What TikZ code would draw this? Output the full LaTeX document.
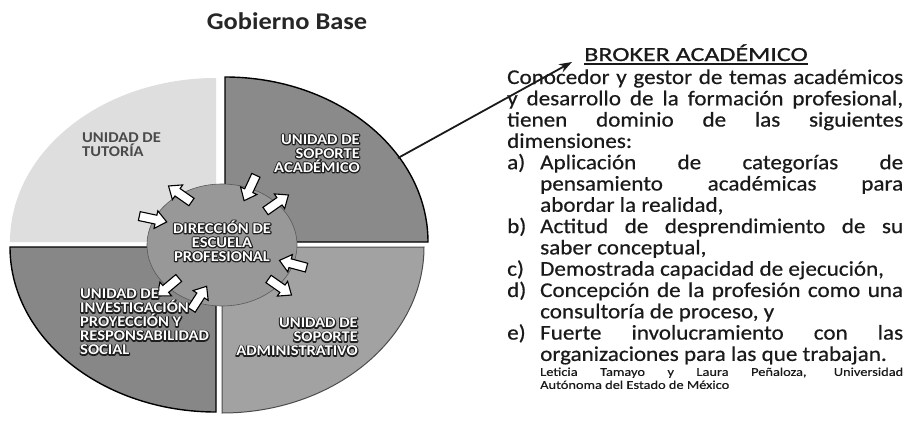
\documentclass[tikz,border=0pt]{standalone}
\usepackage{fontspec}
\setmainfont{Carlito}[FakeStretch=1.1]
\newfontfamily\bodyfont{Carlito}[FakeStretch=1.1, FakeBold=0.5]
\newfontfamily\headfont{Carlito}[FakeStretch=1.3, FakeBold=0.8]
\newfontfamily\citefont{Carlito}[FakeStretch=1.2, FakeBold=0.4]
\usetikzlibrary{arrows.meta}
\definecolor{qlight}{HTML}{DEDEDE}
\definecolor{qtr}{HTML}{8A8A8A}
\definecolor{qbl}{HTML}{878787}
\definecolor{qbr}{HTML}{A2A2A2}
\definecolor{qmid}{HTML}{989898}
\definecolor{tutcol}{HTML}{4A4A4A}
\definecolor{ink}{HTML}{1A1A1A}
\tikzset{
  quadline/.style={line width=1.4pt, draw=black},
  blockarrow/.style={draw=black, fill=white, line width=1.1pt, line join=miter},
  lbl/.style={font=\fontsize{15}{14}\selectfont\bfseries, inner sep=0pt},
  lblshadow/.style={lbl, execute at begin node={\special{pdf:literal direct 1 Tr 2.2 w 1 j 0.12 0.12 0.12 RG}},
    execute at end node={\special{pdf:literal direct 0 Tr 0 0 0 RG}}},
  lbltop/.style={lbl, text=white},
  bodytext/.style={inner sep=0pt, text width=396pt, align=justify, text=ink,
    font=\bodyfont\fontsize{21}{21.3}\selectfont},
}
\newcommand\olbl[4]{%
  \node[lblshadow,#3] (#1-shadow) at #2 {#4};
  \node[lbltop,#3] (#1) at #2 {#4};}
\newcommand\barrow[3]{%
  \begin{scope}[shift={(#1,#2)}, rotate=#3]
    \filldraw[blockarrow] (-14,-4.5) -- (3,-4.5) -- (3,-9) -- (14,0) -- (3,9) -- (3,4.5) -- (-14,4.5) -- cycle;
  \end{scope}}
\newcommand\itm[2]{\par\noindent\hangindent=33pt\hangafter=1\makebox[33pt][l]{#1}#2\par}
\begin{document}
\begin{tikzpicture}[x=1pt,y=-1pt]
\fill[white] (0,0) rectangle (908,423);
\useasboundingbox (0,0) rectangle (908,423);
% quadrants
\fill[qlight] (216,242) -- (10,242) arc[start angle=180, end angle=270, x radius=206, y radius=164] -- cycle;
\filldraw[fill=qtr, quadline] (225,242) -- (225,77) arc[start angle=270, end angle=360, x radius=203, y radius=165] -- cycle;
\filldraw[fill=qbl, quadline] (216,247) -- (10,247) arc[start angle=180, end angle=90, x radius=206, y radius=165] -- cycle;
\filldraw[fill=qbr, draw=gray!60!black, line width=1pt] (222,247) -- (424,247) arc[start angle=0, end angle=90, x radius=202, y radius=166] -- cycle;
% centre
\filldraw[fill=qmid, draw=gray!70!black, line width=0.6pt] (222,245) ellipse[x radius=75, y radius=61];
% block arrows
\barrow{180}{194}{145}
\barrow{250}{188}{-115}
\barrow{277}{203}{35}
\barrow{153}{219}{-12}
\barrow{293}{264}{165}
\barrow{280}{287}{-35}
\barrow{168}{287}{-140}
\barrow{199}{298}{57}
% labels
\node[lbl, text=tutcol, align=left, anchor=west] (tut) at (82,145) {UNIDAD DE\\TUTORÍA};
\olbl{acad}{(360,153.5)}{align=right, anchor=east}{UNIDAD DE\\SOPORTE\\ACADÉMICO}
\olbl{dir}{(222,241)}{align=center}{DIRECCIÓN DE\\ESCUELA\\PROFESIONAL}
\olbl{inv}{(80,322)}{align=left, anchor=west}{UNIDAD DE\\INVESTIGACIÓN\\PROYECCIÓN Y\\RESPONSABILIDAD\\SOCIAL}
\olbl{adm}{(358,337)}{align=right, anchor=east}{UNIDAD DE\\SOPORTE\\ADMINISTRATIVO}
% title
\node[inner sep=0pt, anchor=base, font=\fontsize{24}{24}\selectfont\bfseries, text=black!85] (title) at (287,29) {Gobierno Base};
% broker
\node[inner sep=0pt, anchor=base, font=\headfont\fontsize{20}{20}\selectfont, text=ink] (broker) at (696,61) {BROKER ACADÉMICO};
\draw[ink, line width=1.2pt] ([yshift=-3pt]broker.base west) -- ([yshift=-3pt]broker.base east);
\coordinate (brkA) at (398,158);
\coordinate (brkB) at (572,62);
\draw[ink, line width=1.8pt, -{Stealth[length=13pt,width=9pt]}] (brkA) -- (brkB);
\node[bodytext, anchor=base west] (desc) at (507,84) {%
\parindent=0pt\tolerance=10000\hyphenpenalty=10000
Conocedor y gestor de temas académicos\linebreak
y desarrollo de la formación profesional,\linebreak
tienen dominio de las siguientes\linebreak
dimensiones:\par
\itm{a)}{Aplicación de categorías de\linebreak pensamiento académicas para\linebreak abordar la realidad,}
\itm{b)}{Actitud de desprendimiento de su\linebreak saber conceptual,}
\itm{c)}{Demostrada capacidad de ejecución,}
\itm{d)}{Concepción de la profesión como una\linebreak consultoría de proceso, y}
\itm{e)}{Fuerte involucramiento con las\linebreak organizaciones para las que trabajan.}
\vspace{2pt}
{\leftskip=33pt\citefont\fontsize{12}{13}\selectfont Leticia Tamayo y Laura Peñaloza, Universidad\linebreak Autónoma del Estado de México\par}
};
\end{tikzpicture}
\end{document}
